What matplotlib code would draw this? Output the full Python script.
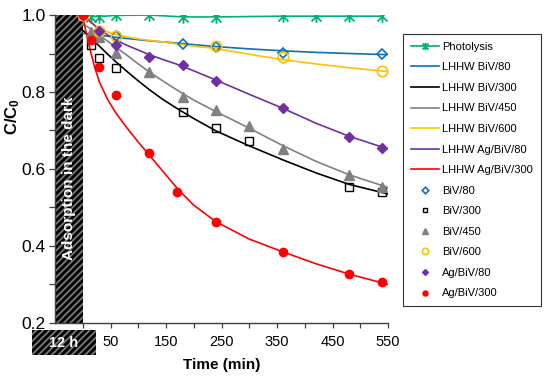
import matplotlib
matplotlib.use('Agg')
import matplotlib.pyplot as plt
from matplotlib.patches import Rectangle
from matplotlib.path import Path

plt.rcParams['font.family'] = ['Liberation Sans', 'DejaVu Sans']
plt.rcParams['mathtext.fontset'] = 'custom'
plt.rcParams['mathtext.rm'] = 'Liberation Sans'
plt.rcParams['mathtext.bf'] = 'Liberation Sans:bold'
plt.rcParams['hatch.linewidth'] = 1.3

# ---------------- data ----------------
photo_t = [0, 15, 30, 60, 120, 180, 240, 360, 420, 480, 540]
photo_c = [1.0, 0.996, 0.996, 0.999, 1.0, 0.995, 0.995, 0.997, 0.997, 0.997, 0.997]

biv80_t = [0, 60, 180, 240, 360, 540]
biv80_c = [1.0, 0.945, 0.925, 0.918, 0.902, 0.899]

biv300_t = [0, 15, 30, 60, 180, 240, 300, 480, 540]
biv300_c = [1.0, 0.921, 0.889, 0.862, 0.748, 0.707, 0.673, 0.554, 0.540]

biv450_t = [0, 15, 30, 60, 120, 180, 240, 300, 360, 480, 540]
biv450_c = [1.0, 0.957, 0.942, 0.902, 0.853, 0.786, 0.752, 0.712, 0.652, 0.584, 0.553]

biv600_t = [0, 30, 60, 240, 360, 540]
biv600_c = [1.0, 0.958, 0.946, 0.919, 0.892, 0.855]

agbiv80_t = [0, 30, 60, 120, 180, 240, 360, 480, 540]
agbiv80_c = [1.0, 0.958, 0.921, 0.890, 0.870, 0.829, 0.758, 0.682, 0.655]

agbiv300_t = [0, 15, 30, 60, 120, 170, 240, 360, 480, 540]
agbiv300_c = [1.0, 0.936, 0.866, 0.792, 0.641, 0.539, 0.463, 0.385, 0.327, 0.306]

# LHHW fitted curves
fit_t = [0, 4, 8, 15, 22, 30, 45, 60, 80, 100, 120, 145, 170, 200, 240, 300, 360, 420, 480, 550]
fit_biv80 = [0.952, 0.952, 0.951, 0.950, 0.948, 0.947, 0.945, 0.942, 0.939, 0.936, 0.933, 0.930,
             0.927, 0.923, 0.918, 0.912, 0.907, 0.903, 0.900, 0.897]
fit_biv300 = [0.960, 0.955, 0.950, 0.940, 0.930, 0.919, 0.898, 0.878, 0.853, 0.829, 0.806, 0.780,
              0.757, 0.731, 0.699, 0.660, 0.624, 0.590, 0.560, 0.535]
fit_biv450 = [0.975, 0.973, 0.970, 0.963, 0.955, 0.947, 0.932, 0.916, 0.895, 0.873, 0.852, 0.828,
              0.805, 0.779, 0.749, 0.706, 0.661, 0.620, 0.585, 0.552]
fit_biv600 = [1.0, 0.995, 0.990, 0.981, 0.973, 0.966, 0.956, 0.949, 0.943, 0.938, 0.934, 0.930,
              0.925, 0.919, 0.913, 0.898, 0.884, 0.873, 0.863, 0.853]
fit_agbiv80 = [1.0, 0.995, 0.990, 0.981, 0.972, 0.963, 0.948, 0.935, 0.921, 0.909, 0.897, 0.884,
               0.872, 0.855, 0.831, 0.794, 0.758, 0.719, 0.685, 0.652]
fit_agbiv300 = [1.0, 0.968, 0.943, 0.900, 0.862, 0.826, 0.780, 0.745, 0.706, 0.670, 0.636, 0.593,
                0.550, 0.506, 0.463, 0.418, 0.385, 0.354, 0.327, 0.300]

c_green = '#00b26f'
c_blue = '#0b72b5'
c_black = '#000000'
c_gray = '#808080'
c_orange = '#ffc000'
c_purple = '#7030a0'
c_red = '#ff0000'

star = Path([(-1, -1), (1, 1), (-1, 1), (1, -1), (0, -1.25), (0, 1.25)],
            [Path.MOVETO, Path.LINETO, Path.MOVETO, Path.LINETO, Path.MOVETO, Path.LINETO])

fig = plt.figure(figsize=(5.5, 3.79), dpi=100)
ax = fig.add_axes([0.1, 0.1478, 0.6055, 0.8126])

# dark adsorption block
ax.add_patch(Rectangle((-50, 0.2), 50, 0.8, facecolor='black', edgecolor='#7a7a7a',
                       hatch='/////', linewidth=0, zorder=1))
ax.text(-25, 0.575, 'Adsorption in the dark', rotation=90, color='white',
        fontweight='bold', fontsize=11, ha='center', va='center', zorder=2)

lw = 1.2
h = []
h.append(ax.plot(photo_t, photo_c, color=c_green, lw=lw, marker=star, ms=9, mew=1.3,
                 label='Photolysis', zorder=3)[0])
h.append(ax.plot(fit_t, fit_biv80, color=c_blue, lw=lw, label='LHHW BiV/80', zorder=3)[0])
h.append(ax.plot(fit_t, fit_biv300, color=c_black, lw=lw, label='LHHW BiV/300', zorder=3)[0])
h.append(ax.plot(fit_t, fit_biv450, color=c_gray, lw=lw, label='LHHW BiV/450', zorder=3)[0])
h.append(ax.plot(fit_t, fit_biv600, color=c_orange, lw=lw, label='LHHW BiV/600', zorder=3)[0])
h.append(ax.plot(fit_t, fit_agbiv80, color=c_purple, lw=lw, label='LHHW Ag/BiV/80', zorder=3)[0])
h.append(ax.plot(fit_t, fit_agbiv300, color=c_red, lw=lw, label='LHHW Ag/BiV/300', zorder=3)[0])

h.append(ax.plot(biv80_t, biv80_c, ls='none', marker='D', ms=5.5, mfc='none', mec=c_blue,
                 mew=1.2, label='BiV/80', zorder=4)[0])
h.append(ax.plot(biv300_t, biv300_c, ls='none', marker='s', ms=6, mfc='none', mec=c_black,
                 mew=1.0, label='BiV/300', zorder=4)[0])
h.append(ax.plot(biv450_t, biv450_c, ls='none', marker='^', ms=7.5, mfc=c_gray, mec=c_gray,
                 label='BiV/450', zorder=4)[0])
h.append(ax.plot(biv600_t, biv600_c, ls='none', marker='o', ms=7.5, mfc='none', mec=c_orange,
                 mew=1.2, label='BiV/600', zorder=4)[0])
h.append(ax.plot(agbiv80_t, agbiv80_c, ls='none', marker='D', ms=5, mfc=c_purple, mec=c_purple,
                 label='Ag/BiV/80', zorder=4)[0])
h.append(ax.plot(agbiv300_t, agbiv300_c, ls='none', marker='o', ms=6, mfc=c_red, mec=c_red,
                 label='Ag/BiV/300', zorder=5)[0])

ax.set_xlim(-50, 550)
ax.set_ylim(0.2, 1.0)
xt = list(range(0, 551, 50))
ax.set_xticks(xt)
ax.set_xticklabels(['' if t % 100 == 0 else str(t) for t in xt])
ax.set_yticks([0.2, 0.4, 0.6, 0.8, 1.0])
ax.set_yticklabels(['0.2', '0.4', '0.6', '0.8', '1.0'])
ax.set_yticks([0.3, 0.5, 0.7, 0.9], minor=True)

for s in ['top', 'right']:
    ax.spines[s].set_visible(False)
for s in ['left', 'bottom']:
    ax.spines[s].set_color('#404040')
    ax.spines[s].set_linewidth(1.0)
ax.tick_params(axis='y', which='both', direction='out', length=4.5, width=0.9,
               color='#404040', pad=2, labelsize=12.5)
ax.tick_params(axis='x', which='both', direction='out', length=3.5, width=0.9,
               color='#404040', pad=5, labelsize=10.5)

ax.set_ylabel(r'$\mathbf{C/C_0}$', fontsize=12)
ax.yaxis.set_label_coords(-0.1, 0.669)
ax.set_xlabel('Time (min)', fontsize=11, fontweight='bold')
ax.xaxis.set_label_coords(0.5, -0.115)

# "12 h" box below the axis
ax.add_patch(Rectangle((-0.07, -0.104), 0.192, 0.081, transform=ax.transAxes,
                       facecolor='black', edgecolor='#7a7a7a', hatch='/////',
                       linewidth=0, clip_on=False, zorder=1))
ax.text(0.026, -0.0635, '12 h', transform=ax.transAxes, color='white',
        fontweight='bold', fontsize=10.5, ha='center', va='center', zorder=2)

leg = ax.legend(handles=h, loc='upper left', bbox_to_anchor=(0.7327, 0.9103),
                bbox_transform=fig.transFigure, frameon=True, fancybox=False,
                edgecolor='black', fontsize=8, labelspacing=0.95, handlelength=2.5,
                handletextpad=0.35, borderpad=0.7, borderaxespad=0, markerscale=0.6)
leg.get_frame().set_linewidth(0.8)

fig.savefig('out.png', dpi=100)
